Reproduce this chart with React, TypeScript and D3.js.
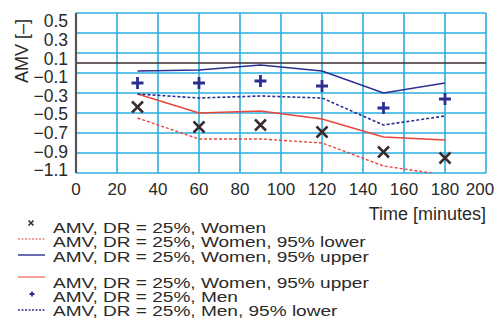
import React from "react";
import * as d3 from "d3";

const times = [30, 60, 90, 120, 150, 180];
const womenMean = [-0.44, -0.64, -0.62, -0.69, -0.89, -0.95];
const womenLower = [-0.55, -0.76, -0.76, -0.8, -1.03, -1.12];
const blueUpper = [-0.08, -0.07, -0.02, -0.08, -0.3, -0.2];
const womenUpper = [-0.31, -0.5, -0.48, -0.56, -0.74, -0.77];
const menMean = [-0.2, -0.2, -0.18, -0.23, -0.45, -0.36];
const menLower = [-0.31, -0.35, -0.33, -0.35, -0.62, -0.53];

const xTicks = [0, 20, 40, 60, 80, 100, 120, 140, 160, 180, 200];
const yTicks = [0.5, 0.3, 0.1, -0.1, -0.3, -0.5, -0.7, -0.9, -1.1];
const legendLabels = [
  "AMV, DR = 25%, Women",
  "AMV, DR = 25%, Women, 95% lower",
  "AMV, DR = 25%, Women, 95% upper",
  "AMV, DR = 25%, Women, 95% upper",
  "AMV, DR = 25%, Men",
  "AMV, DR = 25%, Men, 95% lower",
];

const GRID = "#2aaee0";
const RED = "#e8453c";
const NAVY = "#2b2f8f";
const DARK = "#3a2c2c";
const TEXT = "#2a2a2a";

export default function App() {
  const x = d3.scaleLinear().domain([0, 200]).range([76, 486]);
  const y = d3.scaleLinear().domain([-1.1, 0.5]).range([173, 13]);
  const yLab = d3.scaleLinear().domain([-1.1, 0.5]).range([170, 21]);
  const line = (vals: number[]) =>
    d3
      .line<number>()
      .x((_, i) => x(times[i]))
      .y((v) => y(v))(vals) as string;

  const cross = (cx: number, cy: number, s: number, key: string, sw = 2.5) => (
    <path
      key={key}
      d={`M${cx - s},${cy - s}L${cx + s},${cy + s}M${cx - s},${cy + s}L${cx + s},${cy - s}`}
      stroke={DARK}
      strokeWidth={sw}
    />
  );
  const plus = (cx: number, cy: number, s: number, key: string, sw = 2.8) => (
    <path
      key={key}
      d={`M${cx - s},${cy}L${cx + s},${cy}M${cx},${cy - s}L${cx},${cy + s}`}
      stroke={NAVY}
      strokeWidth={sw}
    />
  );

  const legendRows = [228, 242, 257, 283, 297, 311];

  return (
    <svg width={497} height={323} style={{ position: "absolute", left: 0, top: 0 }} fontFamily="'Liberation Sans', Arial, sans-serif">
      <defs>
        <clipPath id="plotclip">
          <rect x={x(0)} y={y(0.5)} width={x(200) - x(0)} height={y(-1.1) - y(0.5)} />
        </clipPath>
      </defs>
      <rect width={497} height={323} fill="#fff" />
      {yTicks.map((t) => (
        <line key={"gy" + t} x1={x(0)} x2={x(200)} y1={y(t)} y2={y(t)} stroke={GRID} strokeWidth={1.6} />
      ))}
      {xTicks.filter((t) => t > 0).map((t) => (
        <line key={"gx" + t} x1={x(t)} x2={x(t)} y1={y(0.5)} y2={y(-1.1)} stroke={GRID} strokeWidth={1.6} />
      ))}
      <line x1={x(0)} x2={x(200)} y1={y(0)} y2={y(0)} stroke={DARK} strokeWidth={1.6} />
      <line x1={x(0)} x2={x(0)} y1={y(0.5)} y2={y(-1.1)} stroke="#555" strokeWidth={2.2} />

      <g clipPath="url(#plotclip)" fill="none">
        <path d={line(womenLower)} stroke={RED} strokeWidth={1.4} strokeDasharray="3,2" />
        <path d={line(womenUpper)} stroke={RED} strokeWidth={1.4} />
        <path d={line(blueUpper)} stroke={NAVY} strokeWidth={1.4} />
        <path d={line(menLower)} stroke={NAVY} strokeWidth={1.6} strokeDasharray="3,2" />
      </g>
      {womenMean.map((v, i) => cross(x(times[i]), y(v), 5.5, "w" + i))}
      {menMean.map((v, i) => plus(x(times[i]), y(v), 6, "m" + i))}

      {yTicks.map((t) => (
        <text key={"ty" + t} x={68} y={yLab(t)} dy="0.36em" textAnchor="end" fontSize={17.5} fill={TEXT}>
          {t < 0 ? "\u2212" + Math.abs(t).toFixed(1) : t.toFixed(1)}
        </text>
      ))}
      {xTicks.map((t) => (
        <text key={"tx" + t} x={Math.min(x(t), 480)} y={189} dy="0.36em" textAnchor="middle" fontSize={17} fill={TEXT}>
          {t}
        </text>
      ))}
      <text x={486} y={214} dy="0.36em" textAnchor="end" fontSize={18} fill={TEXT}>
        Time [minutes]
      </text>
      <text transform="translate(22,51) rotate(-90)" textAnchor="middle" dy="0.36em" fontSize={18} fill={TEXT}>
        AMV [–]
      </text>

      {cross(31, 223, 2.5, "lg0", 1.6)}
      <line x1={18} x2={45} y1={239} y2={239} stroke={RED} strokeWidth={1} strokeDasharray="2,1.5" />
      <line x1={18} x2={45} y1={255} y2={255} stroke={NAVY} strokeWidth={1.4} />
      <line x1={18} x2={45} y1={277} y2={277} stroke={RED} strokeWidth={1} />
      {plus(32, 294, 2.5, "lg4", 1.8)}
      <line x1={18} x2={45} y1={310} y2={310} stroke={NAVY} strokeWidth={1.4} strokeDasharray="2,1.5" />
      <g transform="translate(53,0) scale(1.36,1)">
        {legendLabels.map((l, i) => (
          <text key={"lg" + i} x={0} y={legendRows[i]} dy="0.36em" fontSize={14} fill={TEXT}>
            {l}
          </text>
        ))}
      </g>
    </svg>
  );
}
